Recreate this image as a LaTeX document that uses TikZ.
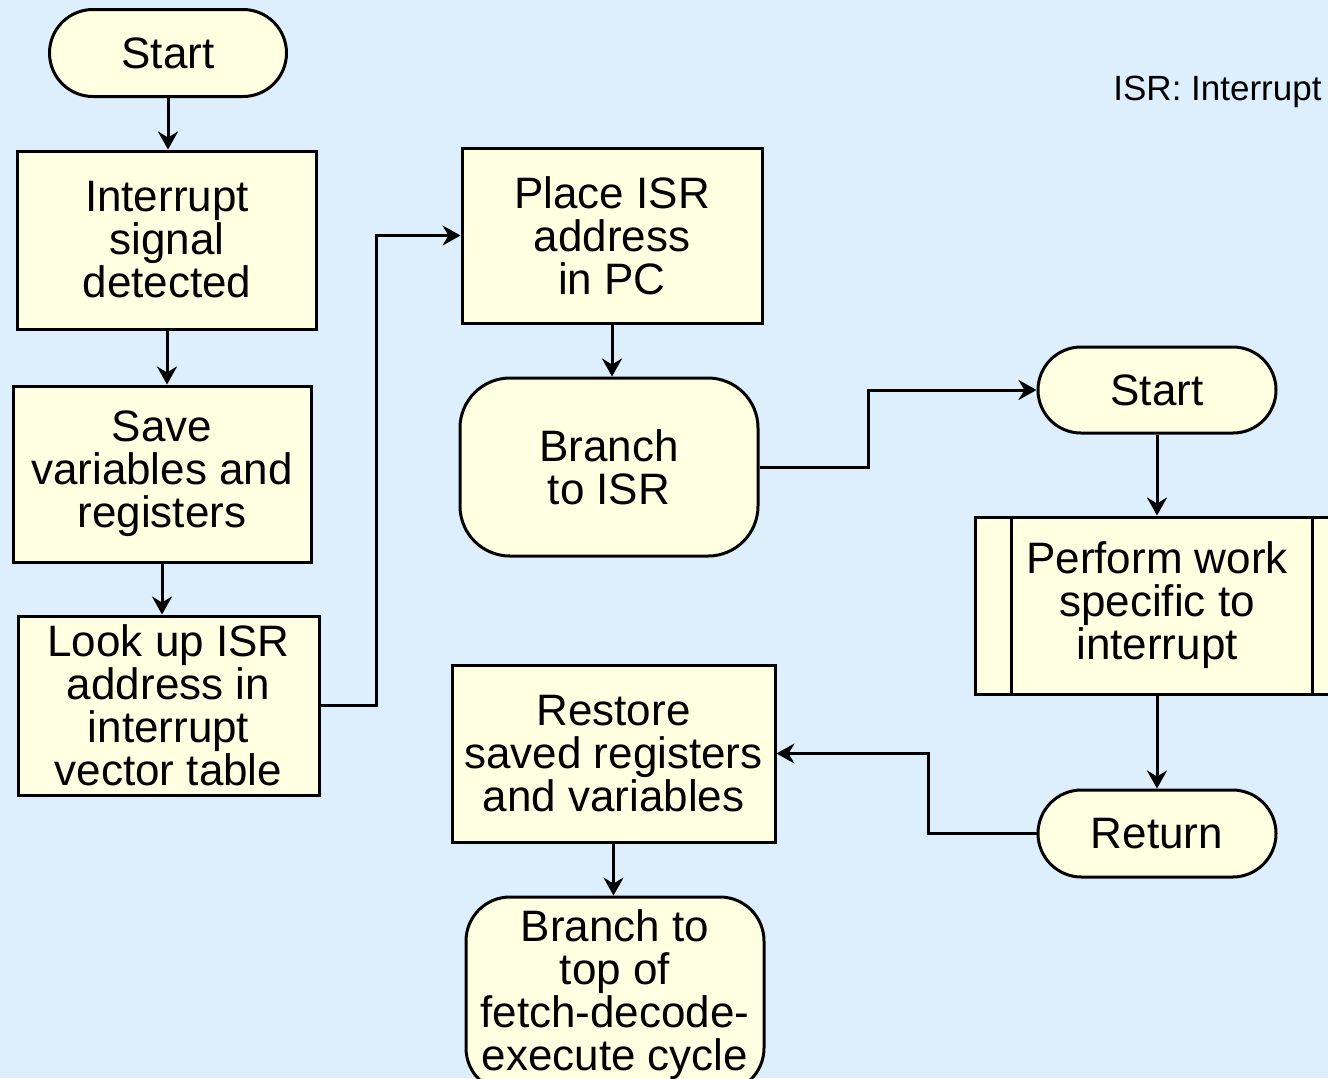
\documentclass[tikz,border=0pt]{standalone}
\usepackage{fontspec}
\setmainfont{Liberation Sans}
\usetikzlibrary{arrows.meta,shapes.misc}
\definecolor{bg}{HTML}{DDEEFD}
\definecolor{cream}{HTML}{FFFFE1}
\begin{document}
\begin{tikzpicture}[x=0.5pt,y=-0.5pt,
  box/.style={draw=black,line width=1.5pt,fill=cream,align=center,inner sep=0pt,font=\fontsize{22}{21.5}\selectfont},
  proc/.style={box,rectangle},
  term/.style={box,rounded rectangle},
  rbox/.style={box,rectangle,rounded corners=25pt},
  arr/.style={line width=1.5pt,-{Stealth[length=9pt,width=10pt,inset=3pt]}},
]
\fill[bg] (0,0) rectangle (1328,1078);
\useasboundingbox (0,0) rectangle (1328,1078);
\clip (0,0) rectangle (1328,1078);

\node[term,minimum width=118.5pt,minimum height=43.5pt] (start1) at (168,53) {Start};
\node[proc,minimum width=149.5pt,minimum height=89pt] (intr) at (167,240) {Interrupt\\signal\\detected};
\node[proc,minimum width=149pt,minimum height=88pt] (save) at (162,474) {Save\\variables and\\registers};
\node[proc,minimum width=150.5pt,minimum height=89.5pt] (look) at (168.5,705.5) {Look up ISR\\address in\\interrupt\\vector table};
\node[proc,minimum width=150pt,minimum height=87.5pt] (place) at (612,235.5) {Place ISR\\address\\in PC};
\node[rbox,minimum width=149pt,minimum height=89pt] (bisr) at (609,467) {Branch\\to ISR};
\node[term,minimum width=119pt,minimum height=43pt] (start2) at (1157,390) {Start};
\node[proc,minimum width=182pt,minimum height=88.5pt] (perf) at (1157,605.5) {Perform work\\specific to\\interrupt};
\draw[line width=1.5pt] ([xshift=19pt]perf.north west) -- ([xshift=19pt]perf.south west);
\draw[line width=1.5pt] ([xshift=-14pt]perf.north east) -- ([xshift=-14pt]perf.south east);
\node[term,minimum width=119pt,minimum height=43.5pt] (ret) at (1157,833.5) {Return};
\node[proc,minimum width=161.5pt,minimum height=88.5pt] (rest) at (613.5,753.5) {Restore\\saved registers\\and variables};
\node[rbox,rounded corners=22pt,minimum width=149pt,minimum height=97.5pt] (btop) at (615,994.5) {Branch to\\top of\\fetch-decode-\\execute cycle};

\node[anchor=west,inner sep=0pt,font=\fontsize{17.5}{20}\selectfont] (isr) at (1113,92) {ISR: Interrupt};

\draw[arr] (start1.south) -- (start1.south |- intr.north);
\draw[arr] (intr.south) -- (intr.south |- save.north);
\draw[arr] (save.south) -- (save.south |- look.north);
\draw[arr] (look.east) -- ++(56,0) |- (place.west);
\draw[arr] (place.south) -- (place.south |- bisr.north);
\draw[arr] (bisr.east) -- ++(109,0) |- (start2.west);
\draw[arr] (start2.south) -- (start2.south |- perf.north);
\draw[arr] (perf.south) -- (perf.south |- ret.north);
\draw[arr] (ret.west) -- ++(-108,0) |- (rest.east);
\draw[arr] (rest.south) -- (rest.south |- btop.north);
\end{tikzpicture}
\end{document}
